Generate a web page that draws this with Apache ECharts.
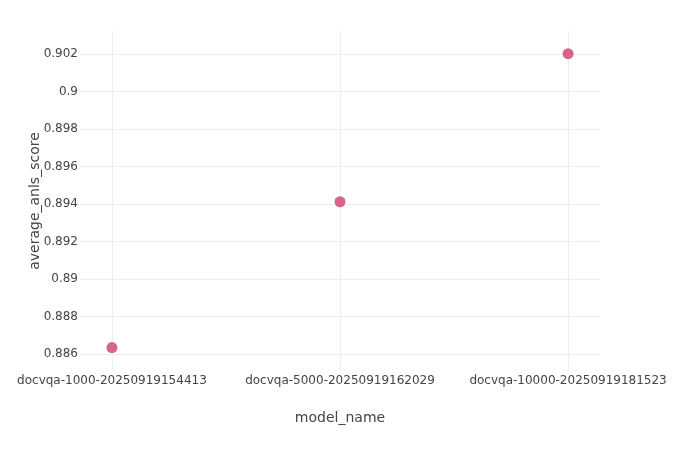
<!DOCTYPE html>
<html><head><meta charset="utf-8">
<script src="https://cdn.jsdelivr.net/npm/echarts@6/dist/echarts.min.js"></script>
<style>html,body{margin:0;padding:0;background:#fff}#c{width:680px;height:450px}</style>
</head><body><div id="c"></div>
<script>
const categories = ["docvqa-1000-20250919154413", "docvqa-5000-20250919162029", "docvqa-10000-20250919181523"];
const scores = [0.88634, 0.89412, 0.90202];
const yTicks = [0.886, 0.888, 0.89, 0.892, 0.894, 0.896, 0.898, 0.9, 0.902];
const xTicks = [0, 1, 2];

const chart = echarts.init(document.getElementById('c'), null, {renderer: 'canvas'});
const font = '"DejaVu Sans", Verdana, sans-serif';
chart.setOption({
  animation: false,
  grid: {left: 80, right: 80, top: 31, bottom: 79, containLabel: false},
  xAxis: {
    type: 'value', min: -0.14, max: 2.14,
    name: 'model_name', nameLocation: 'middle', nameGap: 40,
    nameTextStyle: {fontFamily: font, fontSize: 14, color: '#444'},
    axisLine: {show: false}, axisTick: {show: false, customValues: xTicks},
    axisLabel: {customValues: xTicks, fontFamily: font, fontSize: 12, color: '#444', margin: 4,
      formatter: v => categories[Math.round(v)] || ''},
    splitLine: {show: true, lineStyle: {color: '#eeeeee', width: 1}}
  },
  yAxis: {
    type: 'value', min: 0.88509, max: 0.90323,
    name: 'average_anls_score', nameLocation: 'middle', nameGap: 38, nameMoveOverlap: false,
    nameTextStyle: {fontFamily: font, fontSize: 14, color: '#444'},
    axisLine: {show: false}, axisTick: {show: false, customValues: yTicks},
    axisLabel: {customValues: yTicks, fontFamily: font, fontSize: 12, color: '#444', margin: 2,
      formatter: v => String(parseFloat(v.toFixed(3)))},
    splitLine: {show: true, lineStyle: {color: '#eeeeee', width: 1}}
  },
  series: [{
    type: 'scatter', symbolSize: 11,
    itemStyle: {color: '#d6648c', opacity: 1},
    data: scores.map((s, i) => [xTicks[i], s])
  }]
});
</script></body></html>
